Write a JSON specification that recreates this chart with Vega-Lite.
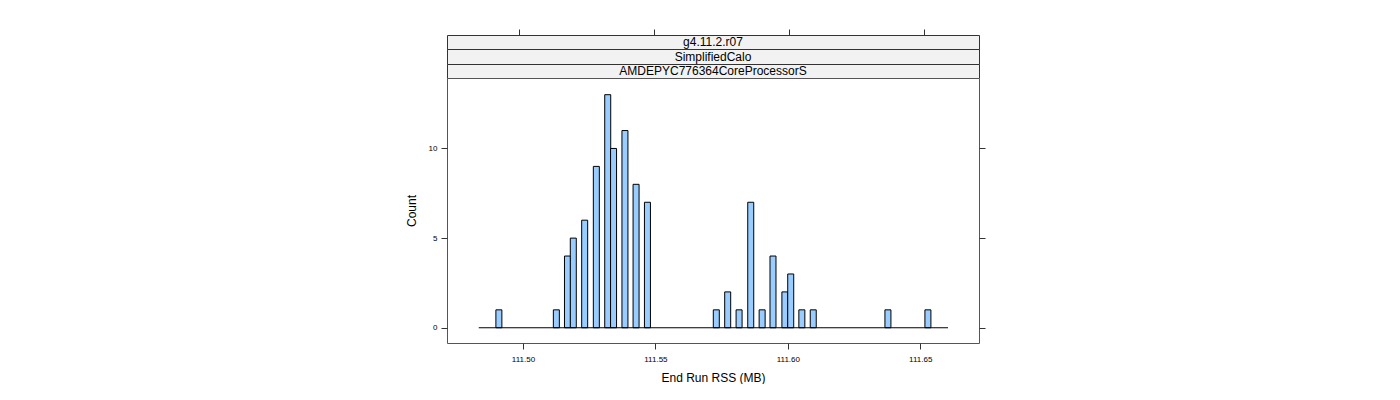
{
  "$schema": "https://vega.github.io/schema/vega-lite/v6.json",
  "padding": {"left": 404, "top": 28, "right": 0, "bottom": 0},
  "background": "white",
  "spacing": 0,
  "bounds": "flush",
  "config": {
    "font": "Liberation Sans",
    "axis": {"grid": false, "domain": false, "tickColor": "#333333", "labelColor": "#000000", "titleColor": "#000000", "labelFont": "Liberation Sans", "titleFont": "Liberation Sans", "titleFontWeight": "normal", "labelFontSize": 8, "titleFontSize": 12, "tickSize": 6}
  },
  "datasets": {
    "bars": [
      {"rss": 111.4909, "count": 1},
      {"rss": 111.5126, "count": 1},
      {"rss": 111.5168, "count": 4},
      {"rss": 111.5190, "count": 5},
      {"rss": 111.5233, "count": 6},
      {"rss": 111.5277, "count": 9},
      {"rss": 111.5320, "count": 13},
      {"rss": 111.5342, "count": 10},
      {"rss": 111.5385, "count": 11},
      {"rss": 111.5427, "count": 8},
      {"rss": 111.5470, "count": 7},
      {"rss": 111.5730, "count": 1},
      {"rss": 111.5773, "count": 2},
      {"rss": 111.5816, "count": 1},
      {"rss": 111.5860, "count": 7},
      {"rss": 111.5903, "count": 1},
      {"rss": 111.5944, "count": 4},
      {"rss": 111.5989, "count": 2},
      {"rss": 111.6011, "count": 3},
      {"rss": 111.6053, "count": 1},
      {"rss": 111.6096, "count": 1},
      {"rss": 111.6378, "count": 1},
      {"rss": 111.6529, "count": 1}
    ],
    "baseline": [{"start": 111.4833, "end": 111.6605}]
  },
  "vconcat": [
    {
      "width": 532, "height": 14,
      "view": {"fill": "#F2F2F2", "stroke": "#333333"},
      "layer": [
        {
          "data": {"name": "baseline"},
          "mark": {"type": "rule", "opacity": 0},
          "encoding": {
            "x": {"field": "start", "type": "quantitative", "scale": {"domain": [111.4732, 111.6703], "nice": false, "zero": false},
                  "axis": {"orient": "top", "values": [111.5, 111.55, 111.6, 111.65], "labels": false, "title": null, "domain": false, "tickSize": 6}}
          }
        },
        {
          "data": {"values": [{"label": "g4.11.2.r07"}]},
          "mark": {"type": "text", "fontSize": 12, "font": "Liberation Sans", "color": "#000000", "baseline": "middle"},
          "encoding": {"text": {"field": "label"}}
        }
      ]
    },
    {
      "width": 532, "height": 15,
      "view": {"fill": "#F2F2F2", "stroke": "#333333"},
      "data": {"values": [{"label": "SimplifiedCalo"}]},
      "mark": {"type": "text", "fontSize": 12, "font": "Liberation Sans", "color": "#000000", "baseline": "middle"},
      "encoding": {"text": {"field": "label"}}
    },
    {
      "width": 532, "height": 14,
      "view": {"fill": "#F2F2F2", "stroke": "#333333"},
      "data": {"values": [{"label": "AMDEPYC776364CoreProcessorS"}]},
      "mark": {"type": "text", "fontSize": 12, "font": "Liberation Sans", "color": "#000000", "baseline": "middle"},
      "encoding": {"text": {"field": "label"}}
    },
    {
      "width": 532, "height": 265,
      "view": {"fill": "white", "stroke": "#555555"},
      "resolve": {"axis": {"y": "independent"}},
      "layer": [
        {
          "data": {"name": "bars"},
          "mark": {"type": "bar", "size": 6, "fill": "#99CCFF", "stroke": "#000000", "strokeWidth": 1},
          "encoding": {
            "x": {"field": "rss", "type": "quantitative", "scale": {"domain": [111.4732, 111.6703], "nice": false, "zero": false},
                  "axis": {"orient": "bottom", "values": [111.5, 111.55, 111.6, 111.65], "format": ".2f", "title": "End Run RSS (MB)", "labelPadding": 6, "titlePadding": 9}},
            "y": {"field": "count", "type": "quantitative", "scale": {"domain": [-0.85, 13.93], "nice": false, "zero": false},
                  "axis": {"orient": "left", "values": [0, 5, 10], "title": "Count", "labelPadding": 4, "titlePadding": 10}}
          }
        },
        {
          "data": {"name": "baseline"},
          "mark": {"type": "rule", "color": "#000000", "strokeWidth": 1},
          "encoding": {
            "x": {"field": "start", "type": "quantitative"},
            "x2": {"field": "end"},
            "y": {"datum": 0, "type": "quantitative", "axis": {"orient": "right", "values": [0, 5, 10], "labels": false, "title": null}}
          }
        }
      ]
    }
  ]
}
